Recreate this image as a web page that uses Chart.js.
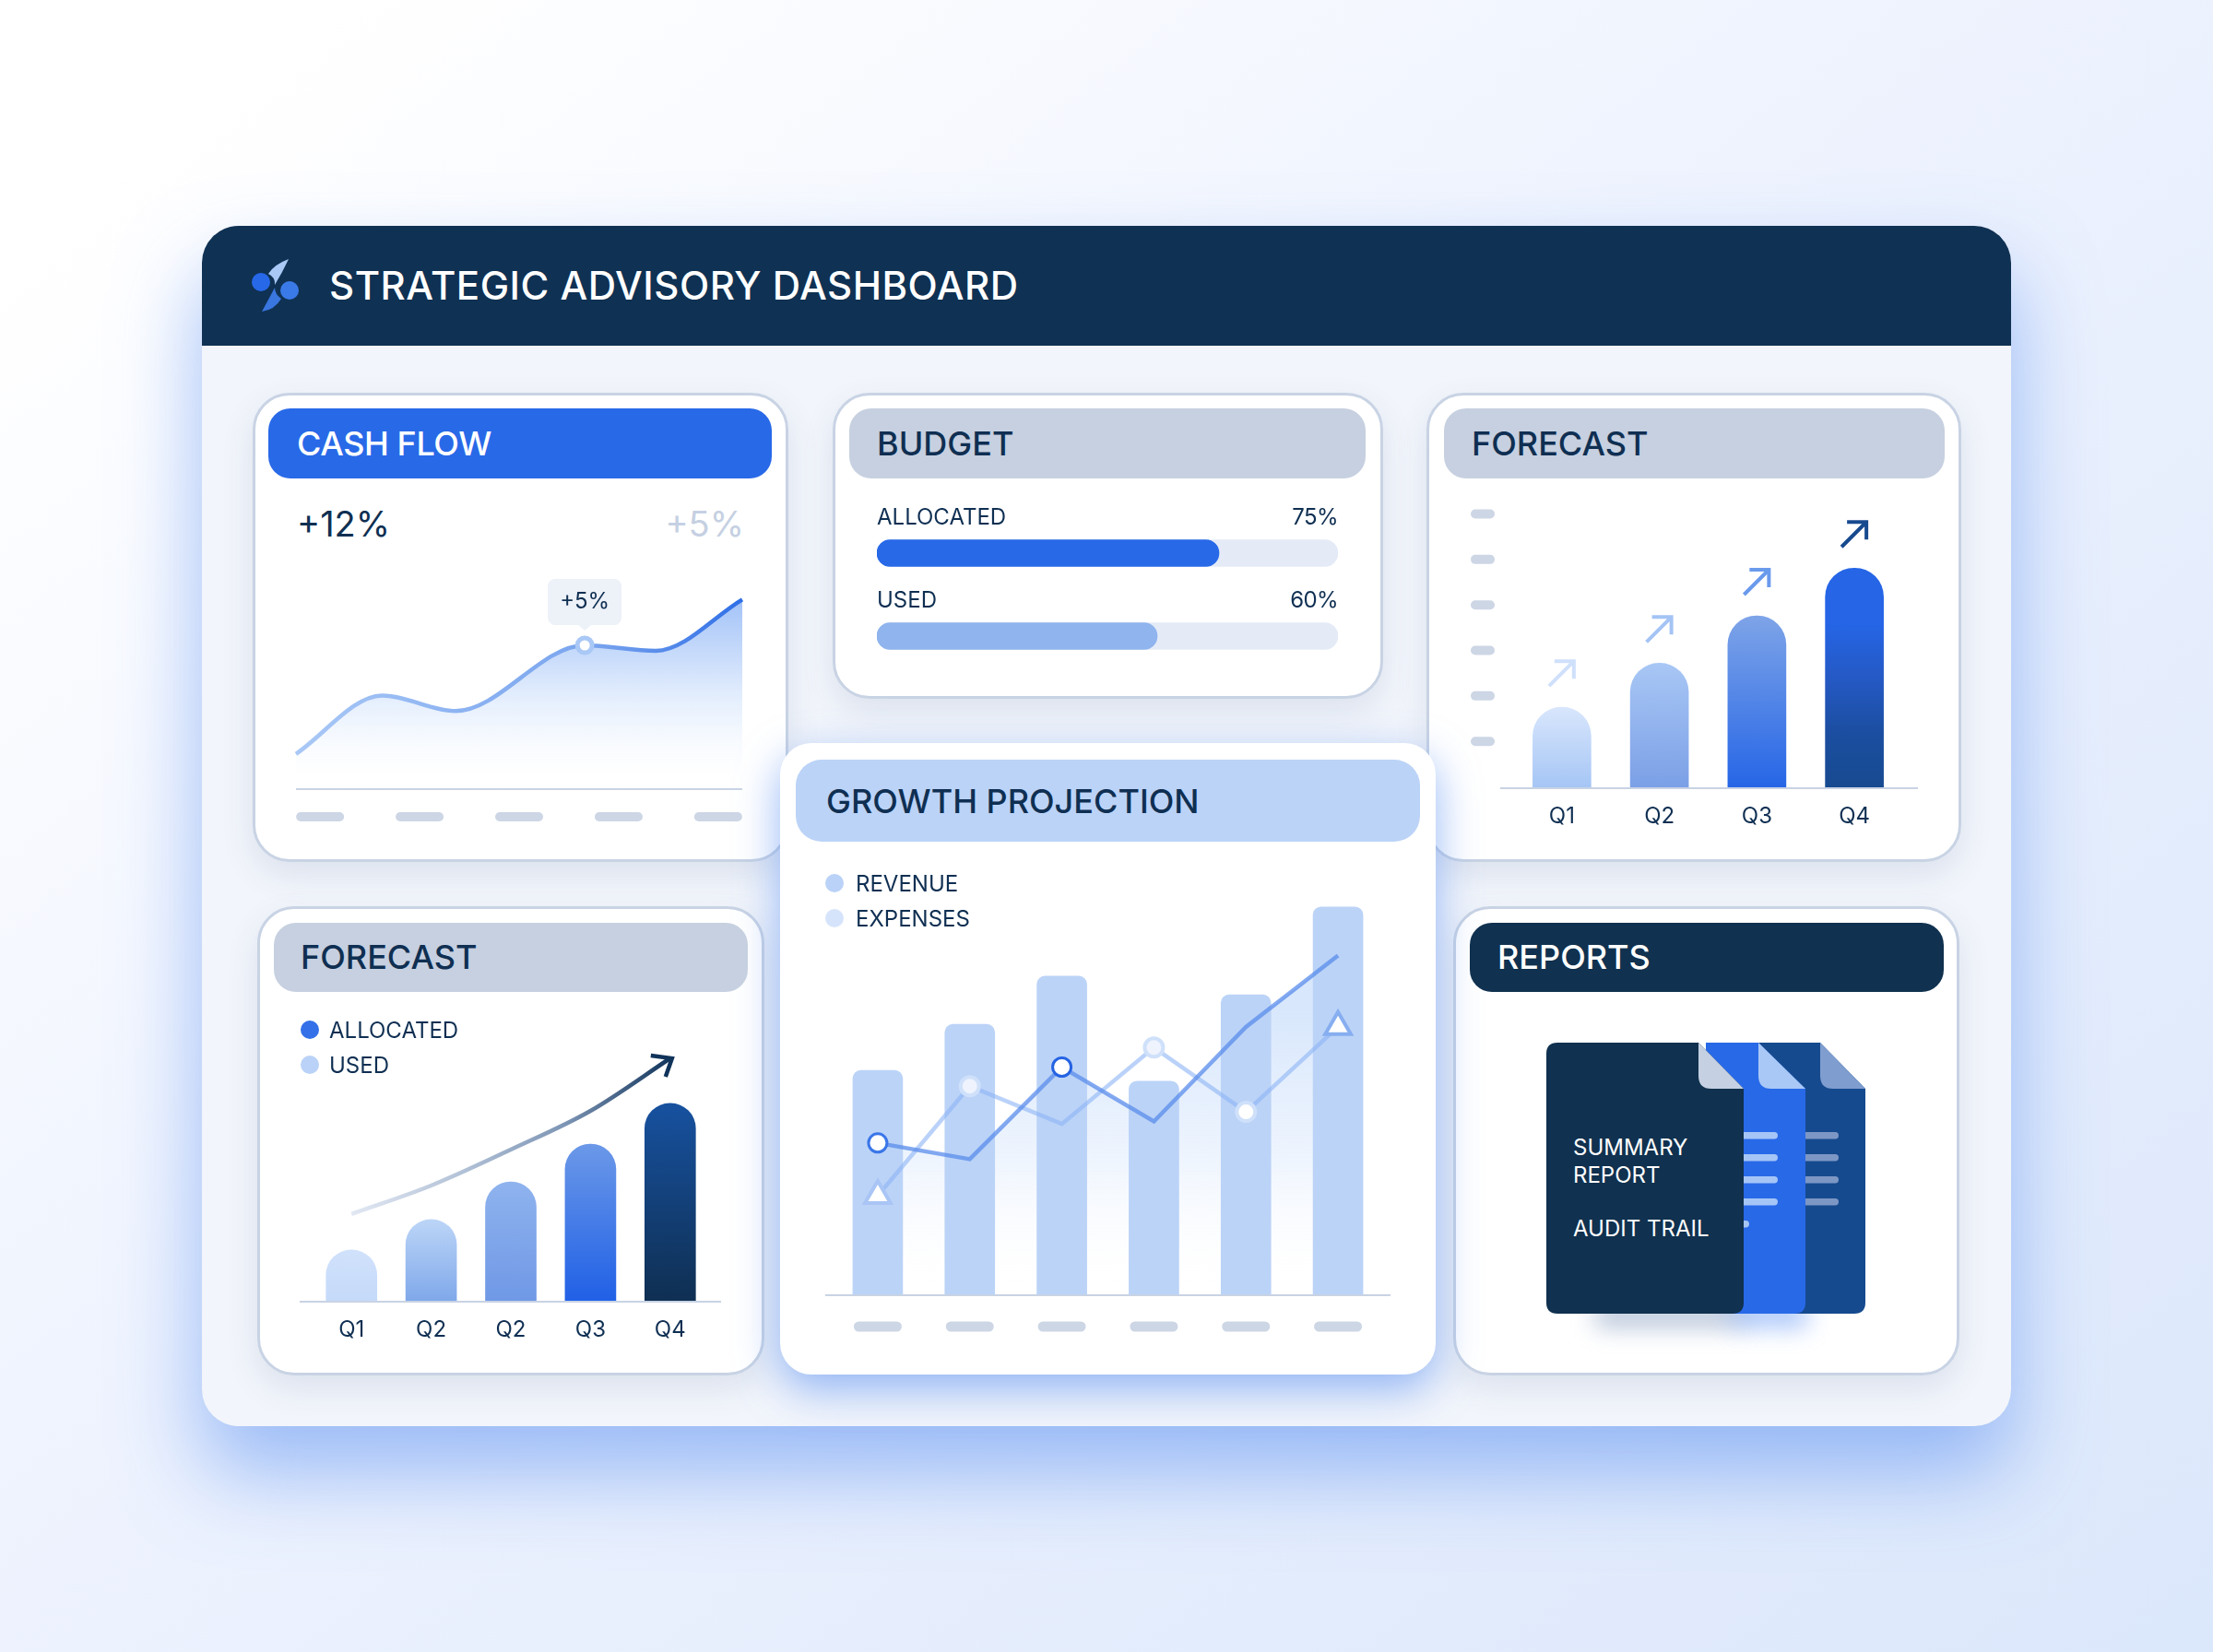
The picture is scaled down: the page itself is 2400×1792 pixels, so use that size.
<!DOCTYPE html>
<html>
<head>
<meta charset="utf-8">
<title>Strategic Advisory Dashboard</title>
<script src="https://cdn.jsdelivr.net/npm/chart.js@4"></script>
<style>
html, body { margin: 0; padding: 0; }
body { width: 2400px; height: 1792px; position: relative; overflow: hidden; font-family: Inter, sans-serif; color: #0f2f52;
  background: linear-gradient(142deg, #ffffff 8%, #eef3fe 45%, #dbe7fb 100%); }
.panel { position: absolute; left: 219px; top: 245px; width: 1962px; height: 1302px; border-radius: 40px; background: #f2f5fb;
  box-shadow: 0 50px 90px rgba(85, 140, 240, .55); }
.head { position: absolute; left: 219px; top: 245px; width: 1962px; height: 130px; border-radius: 40px 40px 0 0; background: #0f3153; }
.card { position: absolute; box-sizing: border-box; background: #fff; border: 3px solid #c8d3e4; border-radius: 40px;
  box-shadow: 0 14px 34px rgba(70, 100, 150, .13); }
.growth { position: absolute; left: 846px; top: 806px; width: 711px; height: 685px; background: #fff; border-radius: 34px; z-index: 3;
  box-shadow: 0 16px 46px rgba(85, 140, 240, .62); }
.pill { position: absolute; border-radius: 24px; z-index: 4; }
.grey { background: #c6d0e0; }
.t { position: absolute; white-space: nowrap; transform: translateY(-50%); line-height: 1; z-index: 6; font-size: 24px; }
.h { font-size: 36px; font-weight: 500; }
.w { color: #fff; }
.pc { letter-spacing: -.6px; }
.dot { position: absolute; width: 20px; height: 20px; border-radius: 50%; transform: translate(-50%, -50%); z-index: 6; }
canvas { position: absolute; z-index: 5; }
svg { position: absolute; left: 0; top: 0; z-index: 5; }
</style>
</head>
<body>
<div class="panel"></div>
<div class="head"></div>
<div class="t w" style="left:357px;top:310px;font-size:42px;font-weight:500;letter-spacing:.5px">STRATEGIC ADVISORY DASHBOARD</div>

<div class="card" style="left:274px;top:426px;width:581px;height:509px"></div>
<div class="pill" style="left:291px;top:443px;width:546px;height:76px;background:#2869e8"></div>
<div class="t h w" style="left:322px;top:481px;letter-spacing:-.4px">CASH FLOW</div>
<div class="t" style="left:322px;top:568px;font-size:38px">+12%</div>
<div class="t" style="right:1593px;top:568px;font-size:38px;color:#c5d0e2">+5%</div>

<div class="card" style="left:903px;top:426px;width:597px;height:332px"></div>
<div class="pill grey" style="left:921px;top:443px;width:560px;height:76px"></div>
<div class="t h" style="left:951px;top:481px">BUDGET</div>
<div class="t" style="left:951px;top:561px">ALLOCATED</div>
<div class="t pc" style="right:949px;top:561px">75%</div>
<div class="t" style="left:951px;top:651px">USED</div>
<div class="t pc" style="right:949px;top:651px">60%</div>

<div class="card" style="left:1547px;top:426px;width:580px;height:509px"></div>
<div class="pill grey" style="left:1566px;top:443px;width:543px;height:76px"></div>
<div class="t h" style="left:1596px;top:481px">FORECAST</div>

<div class="card" style="left:279px;top:983px;width:550px;height:509px"></div>
<div class="pill grey" style="left:297px;top:1001px;width:514px;height:75px"></div>
<div class="t h" style="left:326px;top:1038px">FORECAST</div>
<div class="dot" style="left:336px;top:1117px;background:#3470e8"></div>
<div class="t" style="left:357px;top:1118px">ALLOCATED</div>
<div class="dot" style="left:336px;top:1155px;background:#bad2f7"></div>
<div class="t" style="left:357px;top:1156px">USED</div>

<div class="card" style="left:1576px;top:983px;width:549px;height:509px"></div>
<div class="pill" style="left:1594px;top:1001px;width:514px;height:75px;background:#10314f"></div>
<div class="t h w" style="left:1624px;top:1038px">REPORTS</div>
<div class="t w" style="left:1706px;top:1245px">SUMMARY</div>
<div class="t w" style="left:1706px;top:1275px">REPORT</div>
<div class="t w" style="left:1706px;top:1333px">AUDIT TRAIL</div>

<div class="growth"></div>
<div class="pill" style="left:863px;top:824px;width:677px;height:89px;background:#bbd3f7;border-radius:28px"></div>
<div class="t" style="left:896px;top:869px;font-size:36px;font-weight:500">GROWTH PROJECTION</div>
<div class="dot" style="left:905px;top:958px;background:#bad2f7"></div>
<div class="t" style="left:928px;top:959px">REVENUE</div>
<div class="dot" style="left:905px;top:996px;background:#d6e4fb"></div>
<div class="t" style="left:928px;top:997px">EXPENSES</div>

<svg width="2400" height="1792" viewBox="0 0 2400 1792">
  <defs><filter id="soft" x="-30%" y="-100%" width="160%" height="300%"><feGaussianBlur stdDeviation="13"/></filter></defs>
  <!-- logo -->
  <path d="M313 281 Q297 287 291 297 Q299 301 298 309 Q306 296 313 281Z" fill="#a9c8f6"/>
  <path d="M298 312 L284 338 Q298 336 305 324 Q298 319 298 312Z" fill="#3a76e0"/>
  <circle cx="283" cy="306" r="10" fill="#2768e8"/>
  <circle cx="314" cy="315" r="10" fill="#3a7ae8"/>
  <!-- report sheets -->
  <rect x="1730" y="1412" width="160" height="28" fill="#8299bd" opacity=".55" filter="url(#soft)"/>
  <rect x="1880" y="1412" width="80" height="28" fill="#6f9ff5" opacity=".6" filter="url(#soft)"/>
  <path d="M1900 1131 H1974 L2023 1181 V1413 Q2023 1425 2011 1425 H1900Z" fill="#164a8e"/>
  <path d="M1974 1131 L2023 1181 H1988 Q1974 1181 1974 1167Z" fill="#7f9dcf"/>
  <g fill="#7d97c5">
    <rect x="1950" y="1228" width="44" height="7.5" rx="3.7"/><rect x="1950" y="1252" width="44" height="7.5" rx="3.7"/>
    <rect x="1950" y="1276" width="44" height="7.5" rx="3.7"/><rect x="1950" y="1300" width="44" height="7.5" rx="3.7"/>
  </g>
  <path d="M1850 1131 H1907 L1958 1181 V1413 Q1958 1425 1946 1425 H1850Z" fill="#2869e8"/>
  <path d="M1907 1131 L1958 1181 H1921 Q1907 1181 1907 1167Z" fill="#a9c8f6"/>
  <g fill="#a5c5f7">
    <rect x="1880" y="1228" width="48" height="7.5" rx="3.7"/><rect x="1880" y="1252" width="48" height="7.5" rx="3.7"/>
    <rect x="1880" y="1276" width="48" height="7.5" rx="3.7"/><rect x="1880" y="1300" width="48" height="7.5" rx="3.7"/>
    <rect x="1880" y="1324" width="17" height="7.5" rx="3.7"/>
  </g>
  <path d="M1689 1131 H1842 L1891 1181 V1413 Q1891 1425 1879 1425 H1689 Q1677 1425 1677 1413 V1143 Q1677 1131 1689 1131Z" fill="#10314f"/>
  <path d="M1842 1131 L1891 1181 H1856 Q1842 1181 1842 1167Z" fill="#c5d0e2"/>
</svg>

<canvas id="cashChart" width="540" height="320" style="left:291px;top:596px"></canvas>
<canvas id="budgetChart" width="500" height="180" style="left:951px;top:555px"></canvas>
<canvas id="forecastRightChart" width="513" height="376" style="left:1581px;top:539px"></canvas>
<canvas id="forecastLeftChart" width="492" height="380" style="left:308px;top:1092px"></canvas>
<canvas id="growthChart" width="639" height="540" style="left:882px;top:935px;z-index:5"></canvas>

<script>
// values
var cashX = [0, 19.3, 35.8, 64.7, 80.6, 100];
var cashY = [15.9, 42.3, 35.3, 65, 62.5, 85.7];
var cashTicks = [5.4, 27.7, 50, 72.3, 94.6];
var cashMarker = 3;
var cashNote = '+5%';

var budgetLabels = ['ALLOCATED', 'USED'];
var budgetValues = [74.2, 60.8];

var rightLabels = ['Q1', 'Q2', 'Q3', 'Q4'];
var rightValues = [1.78, 2.75, 3.79, 4.84];
var rightTicks = [1.03, 2.03, 3.03, 4.03, 5.03, 6.03];

var leftLabels = ['Q1', 'Q2', 'Q2', 'Q3', 'Q4'];
var leftValues = [18.7, 29.7, 43.3, 57, 71.7];
var leftTrend = [31.7, 42, 55, 69, 88];

var growthLabels = ['A', 'B', 'C', 'D', 'E', 'F'];
var growthBars = [54.2, 65.3, 76.9, 51.6, 72.4, 93.6];
var growthRevenue = [36.7, 32.8, 55, 41.9, 64.7, 81.9];
var growthExpenses = [24, 50.4, 41.3, 59.7, 44.2, 64.7];

var NAVY = '#0f2f52', AXIS = '#c8d3e4', PILL = '#cdd6e5';
Chart.defaults.font.family = 'Inter';
Chart.defaults.animation = false;
Chart.defaults.plugins.legend.display = false;
Chart.defaults.plugins.tooltip.enabled = false;

function pill(ctx, cx, cy, w, h) {
    ctx.fillStyle = PILL;
    ctx.beginPath();
    ctx.roundRect(cx - w / 2, cy - h / 2, w, h, h / 2);
    ctx.fill();
}

function baseline(chart, extL, extR) {
    var a = chart.chartArea, ctx = chart.ctx;
    ctx.save();
    ctx.strokeStyle = AXIS;
    ctx.lineWidth = 2;
    ctx.beginPath();
    ctx.moveTo(a.left - extL, a.bottom);
    ctx.lineTo(a.right + extR, a.bottom);
    ctx.stroke();
    ctx.restore();
}

function vGrad(ctx, y0, y1, stops) {
    var g = ctx.createLinearGradient(0, y0, 0, y1);
    stops.forEach(function (s, i) { g.addColorStop(i / (stops.length - 1), s); });
    return g;
}

function hGrad(ctx, x0, x1, stops) {
    var g = ctx.createLinearGradient(x0, 0, x1, 0);
    stops.forEach(function (s, i) { g.addColorStop(i / (stops.length - 1), s); });
    return g;
}

function barY(top, h, v, max) { return top + h * (1 - v / max); }

// cash flow: plot 321..805 x 616..856
var ctxCash = document.getElementById('cashChart').getContext('2d');
new Chart(ctxCash, {
    type: 'line',
    data: {
        datasets: [{
            data: cashX.map(function (x, i) { return { x: x, y: cashY[i] }; }),
            borderWidth: 4.5,
            borderColor: hGrad(ctxCash, 30, 514, ['#a9c8f6', '#8fb5f2', '#79a4ee', '#2f6fe6']),
            backgroundColor: vGrad(ctxCash, 54, 260, ['rgba(125,170,245,.72)', 'rgba(170,200,248,.6)', 'rgba(215,230,252,.35)', 'rgba(255,255,255,0)']),
            fill: 'origin',
            cubicInterpolationMode: 'monotone',
            clip: false,
            pointRadius: cashX.map(function (x, i) { return i === cashMarker ? 8 : 0; }),
            pointBackgroundColor: '#fff',
            pointBorderColor: '#a9c8f6',
            pointBorderWidth: 5
        }]
    },
    options: {
        responsive: false,
        layout: { padding: { left: 30, right: 26, top: 20, bottom: 60 } },
        scales: {
            x: { type: 'linear', min: 0, max: 100, display: false },
            y: { min: 0, max: 100, display: false }
        }
    },
    plugins: [{
        id: 'cashExtras',
        beforeDatasetsDraw: function (chart) { baseline(chart, 0, 0); },
        afterDraw: function (chart) {
            var ctx = chart.ctx, xs = chart.scales.x, bottom = chart.chartArea.bottom;
            cashTicks.forEach(function (t) { pill(ctx, xs.getPixelForValue(t), bottom + 30, 52, 10); });
            var p = chart.getDatasetMeta(0).data[cashMarker];
            ctx.save();
            ctx.fillStyle = '#edf1f8';
            ctx.beginPath();
            ctx.roundRect(p.x - 40, p.y - 72, 80, 50, 8);
            ctx.fill();
            ctx.beginPath();
            ctx.moveTo(p.x - 7, p.y - 22);
            ctx.lineTo(p.x, p.y - 16);
            ctx.lineTo(p.x + 7, p.y - 22);
            ctx.fill();
            ctx.fillStyle = NAVY;
            ctx.font = '24px Inter';
            ctx.textAlign = 'center';
            ctx.textBaseline = 'middle';
            ctx.fillText(cashNote, p.x, p.y - 47);
            ctx.restore();
        }
    }]
});

// budget bars
new Chart(document.getElementById('budgetChart'), {
    type: 'bar',
    data: {
        labels: budgetLabels,
        datasets: [{
            data: budgetValues,
            backgroundColor: ['#2869e8', '#8fb4ee'],
            barThickness: 29, borderRadius: 14.5, borderSkipped: false, grouped: false, order: 1
        }, {
            data: budgetLabels.map(function () { return 100; }),
            backgroundColor: '#e4ebf7',
            barThickness: 29, borderRadius: 14.5, borderSkipped: false, grouped: false, order: 2
        }]
    },
    options: {
        responsive: false,
        indexAxis: 'y',
        scales: {
            x: { min: 0, max: 100, display: false },
            y: { display: false }
        }
    }
});

// forecast, top right: plot 1641..2064 x 558.6..855
var ctxRight = document.getElementById('forecastRightChart').getContext('2d');
var rightStops = [
    ['#d8e6fc', '#a5c5f5'],
    ['#a8c7f5', '#7b9fe6'],
    ['#7ea4e8', '#2565e6'],
    ['#2565e6', '#2565e6', '#2559c4', '#1b4ea0', '#174a8f']
];
var rightArrows = ['#cfe0fb', '#a5c4f5', '#6a9aec', '#174a8f'];
new Chart(ctxRight, {
    type: 'bar',
    data: {
        labels: rightLabels,
        datasets: [{
            data: rightValues,
            barThickness: 63,
            borderRadius: 31.5,
            backgroundColor: rightValues.map(function (v, i) {
                return vGrad(ctxRight, barY(20, 296.4, v, 6), 316.4, rightStops[i]);
            })
        }]
    },
    options: {
        responsive: false,
        layout: { padding: { left: 60, right: 30, top: 20, bottom: 0 } },
        scales: {
            x: {
                afterFit: function (s) { s.height = 60; },
                grid: { display: false }, border: { display: false },
                ticks: { color: NAVY, font: { size: 24 }, padding: 8, maxRotation: 0 }
            },
            y: { min: 0, max: 6, display: false }
        }
    },
    plugins: [{
        id: 'rightExtras',
        afterDraw: function (chart) {
            var ctx = chart.ctx, ys = chart.scales.y;
            baseline(chart, 14, 16);
            rightTicks.forEach(function (t) { pill(ctx, chart.chartArea.left - 33, ys.getPixelForValue(t), 26, 10); });
            chart.getDatasetMeta(0).data.forEach(function (b, i) {
                ctx.save();
                ctx.strokeStyle = rightArrows[i];
                ctx.lineWidth = 4;
                ctx.beginPath();
                ctx.moveTo(b.x - 14, b.y - 23);
                ctx.lineTo(b.x + 13, b.y - 50);
                ctx.moveTo(b.x - 8, b.y - 50);
                ctx.lineTo(b.x + 13, b.y - 50);
                ctx.lineTo(b.x + 13, b.y - 31);
                ctx.stroke();
                ctx.restore();
            });
        }
    }]
});

// forecast, bottom left: plot 338..770 x 1112..1412
var ctxLeft = document.getElementById('forecastLeftChart').getContext('2d');
var leftStops = [
    ['#d0e1fb', '#c5daf9'],
    ['#bcd5f7', '#7fa8ea'],
    ['#8fb3ee', '#6f98e6'],
    ['#6b98e8', '#2060e6'],
    ['#17519f', '#0f2f52']
];
new Chart(ctxLeft, {
    type: 'bar',
    data: {
        labels: leftLabels,
        datasets: [{
            type: 'line',
            data: leftTrend,
            borderWidth: 4.5,
            borderColor: hGrad(ctxLeft, 73, 421, ['#e2e8f3', '#b4c3d8', '#7d95b5', '#10335a']),
            cubicInterpolationMode: 'monotone',
            pointRadius: 0,
            fill: false,
            order: 1
        }, {
            data: leftValues,
            barThickness: 55,
            borderRadius: 27.5,
            order: 2,
            backgroundColor: leftValues.map(function (v, i) {
                return vGrad(ctxLeft, barY(20, 300, v, 100), 320, leftStops[i]);
            })
        }]
    },
    options: {
        responsive: false,
        layout: { padding: { left: 30, right: 30, top: 20, bottom: 0 } },
        scales: {
            x: {
                afterFit: function (s) { s.height = 60; },
                grid: { display: false }, border: { display: false },
                ticks: { color: NAVY, font: { size: 24 }, padding: 8, maxRotation: 0 }
            },
            y: { min: 0, max: 100, display: false }
        }
    },
    plugins: [{
        id: 'leftExtras',
        afterDraw: function (chart) {
            var ctx = chart.ctx, pts = chart.getDatasetMeta(0).data, tip = pts[pts.length - 1];
            baseline(chart, 13, 12);
            ctx.save();
            ctx.strokeStyle = '#10335a';
            ctx.lineWidth = 4.5;
            ctx.beginPath();
            ctx.moveTo(tip.x - 21, tip.y - 3);
            ctx.lineTo(tip.x + 2, tip.y);
            ctx.lineTo(tip.x - 5, tip.y + 20);
            ctx.stroke();
            ctx.restore();
        }
    }]
});

// growth projection: plot 901.8..1500.8 x 954.5..1404.5
var ctxGrowth = document.getElementById('growthChart').getContext('2d');
new Chart(ctxGrowth, {
    type: 'bar',
    data: {
        labels: growthLabels,
        datasets: [{
            type: 'line',
            label: 'REVENUE',
            data: growthRevenue,
            borderWidth: 4.5,
            borderColor: 'rgba(90,140,235,.75)',
            fill: false,
            tension: 0,
            clip: false,
            pointStyle: 'circle',
            pointRadius: [10, 0, 10, 0, 0, 0],
            pointBackgroundColor: '#fff',
            pointBorderColor: ['#3a76e8', '#3a76e8', '#2563e3', '#3a76e8', '#3a76e8', '#3a76e8'],
            pointBorderWidth: 3,
            order: 1
        }, {
            type: 'line',
            label: 'EXPENSES',
            data: growthExpenses,
            borderWidth: 4.5,
            borderColor: 'rgba(140,180,245,.6)',
            fill: false,
            tension: 0,
            clip: false,
            pointStyle: ['triangle', 'circle', 'circle', 'circle', 'circle', 'triangle'],
            pointRadius: [16, 10, 0, 10, 10, 16],
            pointBackgroundColor: ['#fff', '#eef3fd', '#fff', '#eef3fd', '#fff', '#fff'],
            pointBorderColor: ['#a9c5f5', '#cfe0fa', '#cfe0fa', '#cfe0fa', '#cfe0fa', '#87aef0'],
            pointBorderWidth: 4,
            order: 2
        }, {
            data: growthBars,
            barThickness: 54,
            borderRadius: 9,
            backgroundColor: '#bbd3f7',
            order: 3
        }, {
            // pale glow behind the bars
            type: 'line',
            data: growthRevenue,
            borderWidth: 0,
            backgroundColor: vGrad(ctxGrowth, 160, 470, ['rgba(190,215,250,.6)', 'rgba(215,230,252,.45)', 'rgba(255,255,255,0)']),
            fill: 'origin',
            tension: 0,
            pointRadius: 0,
            order: 4
        }]
    },
    options: {
        responsive: false,
        layout: { padding: { left: 20, right: 20, top: 20, bottom: 70 } },
        scales: {
            x: { display: false },
            y: { min: 0, max: 100, display: false }
        }
    },
    plugins: [{
        id: 'growthExtras',
        afterDraw: function (chart) {
            baseline(chart, 7, 7);
            var xs = chart.scales.x;
            growthLabels.forEach(function (l, i) { pill(chart.ctx, xs.getPixelForTick(i), chart.chartArea.bottom + 34, 52, 11); });
        }
    }]
});
</script>
</body>
</html>
